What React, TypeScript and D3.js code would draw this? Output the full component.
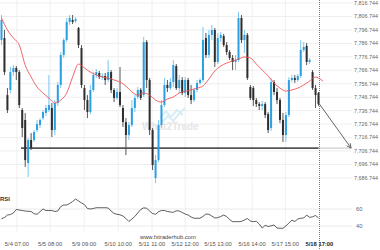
import React from "react";
import * as d3 from "d3";

const OPEN = [7789.2,7790.7,7748.3,7752.1,7765.4,7768.4,7765.4,7737.2,7729.8,7697.8,
7714.9,7714.9,7722.3,7726.0,7731.2,7735.0,7737.2,7738.7,7722.3,7742.4,
7755.8,7778.1,7789.2,7802.6,7804.1,7803.4,7798.2,7783.3,7753.5,7744.6,
7735.7,7752.1,7763.2,7764.7,7761.7,7762.5,7759.5,7765.4,7752.1,7746.1,
7750.6,7738.7,7728.3,7718.6,7726.0,7738.7,7746.9,7752.1,7748.3,7787.7,
7759.5,7722.3,7686.6,7700.0,7726.0,7740.9,7755.8,7753.5,7758.0,7769.9,
7753.5,7759.5,7749.8,7759.5,7748.3,7744.6,7752.1,7757.3,7759.5,7790.7,
7778.1,7793.0,7796.7,7772.9,7790.7,7792.2,7785.5,7780.3,7775.9,7772.9,
7774.4,7805.6,7789.2,7793.0,7754.3,7753.5,7744.6,7741.6,7740.2,7741.6,
7734.2,7723.8,7758.0,7750.6,7744.6,7729.8,7718.6,7733.5,7759.5,7761.0,
7759.5,7762.5,7781.8,7784.8,7772.9,7765.4,7753.5,7749.8];
const HIGH = [7807.8,7796.7,7753.5,7769.2,7770.6,7769.9,7766.9,7738.7,7735.0,7716.4,
7720.1,7722.3,7729.8,7731.2,7737.2,7740.9,7763.2,7742.4,7744.6,7758.0,
7780.3,7790.7,7805.6,7807.8,7807.8,7806.3,7798.9,7785.5,7755.8,7748.3,
7755.8,7765.4,7767.7,7766.2,7764.7,7764.7,7774.4,7766.9,7753.5,7753.5,
7769.2,7740.9,7731.2,7728.3,7744.6,7748.3,7754.3,7753.5,7791.5,7789.2,
7761.0,7723.8,7703.7,7729.8,7744.6,7761.0,7759.5,7761.0,7774.4,7771.4,
7763.2,7761.7,7761.7,7761.0,7755.8,7753.5,7759.5,7761.0,7798.9,7794.4,
7796.7,7800.4,7798.2,7794.4,7795.2,7793.7,7787.7,7781.8,7778.1,7778.1,
7810.1,7807.8,7796.7,7794.4,7755.8,7755.0,7746.1,7743.1,7743.9,7743.1,
7735.7,7761.0,7759.5,7753.5,7746.1,7735.0,7735.7,7761.7,7763.2,7763.2,
7764.0,7789.2,7787.7,7787.0,7775.9,7766.9,7755.8,7750.6];
const LOW = [7785.5,7763.2,7735.0,7749.8,7762.5,7759.5,7738.7,7717.1,7694.8,7687.4,
7707.5,7713.4,7720.8,7723.8,7729.8,7732.7,7735.7,7717.1,7718.6,7740.2,
7753.5,7775.9,7787.7,7800.4,7801.1,7801.9,7783.3,7753.5,7737.2,7731.2,
7734.2,7750.6,7761.0,7760.2,7759.5,7755.8,7758.0,7749.8,7743.1,7744.6,
7739.4,7724.6,7703.7,7714.9,7724.6,7735.7,7745.4,7744.6,7746.9,7753.5,
7718.6,7692.6,7682.9,7698.5,7723.8,7739.4,7750.6,7752.1,7754.3,7752.1,
7749.8,7748.3,7746.9,7746.1,7741.6,7743.1,7750.6,7755.8,7758.0,7775.9,
7775.9,7789.2,7769.2,7771.4,7787.7,7784.0,7778.1,7774.4,7766.9,7766.9,
7772.9,7787.0,7779.6,7759.5,7744.6,7740.2,7739.4,7737.2,7737.2,7731.2,
7720.1,7721.6,7748.3,7741.6,7727.5,7713.4,7713.4,7732.0,7758.0,7757.3,
7758.0,7761.0,7780.3,7770.6,7771.4,7752.1,7738.7,7740.2];
const CLOSE = [7804.1,7765.4,7737.2,7765.4,7768.4,7765.4,7740.9,7723.8,7700.0,7714.9,
7708.9,7720.8,7726.8,7729.8,7735.7,7738.7,7740.9,7722.3,7742.4,7755.8,
7778.1,7789.2,7802.6,7805.6,7802.6,7804.8,7785.5,7755.8,7744.6,7735.7,
7752.1,7763.2,7765.4,7761.7,7762.5,7759.5,7765.4,7752.1,7746.1,7750.6,
7740.9,7728.3,7718.6,7726.0,7738.7,7746.1,7752.1,7746.1,7787.7,7759.5,
7722.3,7696.3,7700.0,7726.0,7740.9,7755.8,7753.5,7758.0,7770.6,7753.5,
7759.5,7749.8,7759.5,7748.3,7744.6,7752.1,7757.3,7759.5,7789.2,7778.1,
7793.0,7796.7,7772.9,7790.7,7793.0,7785.5,7780.3,7775.9,7772.9,7774.4,
7805.6,7789.2,7793.0,7761.0,7746.1,7744.6,7741.6,7740.2,7741.6,7733.5,
7722.3,7758.0,7750.6,7744.6,7729.8,7718.6,7733.5,7759.5,7761.0,7759.5,
7762.5,7781.8,7784.0,7772.9,7774.4,7753.5,7748.3,7741.6];

const MA_IDX = [0,2,4,6,8,10,12,14,16,18,20,22,24,26,28,30,32,34,36,38,40,42,44,46,48,50,52,54,56,58,60,62,64,66,68,70,72,74,76,78,80,82,84,86,88,90,92,94,96,98,100,102,104,106,107,108.5];
const MA_VAL = [7805.6,7796.7,7790.7,7785.5,7770.6,7761.7,7754.3,7749.8,7746.1,7742.4,
7744.6,7749.8,7761.7,7771.4,7768.4,7765.4,7763.2,7761.7,7761.0,7759.5,
7758.0,7755.0,7750.6,7748.3,7749.8,7748.3,7744.6,7743.1,7745.4,7746.9,
7749.8,7751.3,7752.1,7753.5,7755.0,7760.2,7766.2,7769.9,7772.1,7773.6,
7775.1,7776.6,7775.9,7771.4,7766.9,7762.5,7757.3,7753.5,7751.3,7752.1,
7753.5,7755.8,7758.7,7761.7,7761.0,7758.7];

const RSI = [48.5,50,52.9,53.5,55.3,59.4,58.8,58.2,57.6,57.3,
57.1,54.4,53.8,56.8,60,58.2,58.2,58.2,57.1,57.6,
62.9,64.7,64.7,66.5,68.8,71.8,69.4,67.1,65.1,60.6,
60,60.6,61.5,61.5,61.5,61.5,61.2,57.6,54.7,53.8,
53.2,51.8,48.8,45.3,48.2,51.2,55.3,59.4,61.4,60.8,
57.6,54.7,53.8,56.8,58.2,58.2,57.1,56.5,56.1,57.9,
57.6,55.9,54.1,52.9,50.6,49.1,49.1,49.1,51.2,54.1,
53.8,51.8,49.4,49.8,51.2,52.9,51.2,47.6,45.1,45.1,
45.1,45.5,47.1,48.8,45.9,45.1,45.6,42.4,37.6,40.8,
39.4,40.2,41.2,37.6,37.3,37.3,40,43.5,46.8,45.3,
48.2,49.1,49.4,52.9,50.2,50.8,52.4,49.4];

const PRICE_TICKS = [7816.744,7806.744,7796.744,7786.744,7776.744,7766.744,7756.744,7746.744,7736.744,7726.744,7716.744,7706.744,7696.744,7686.744];
const RSI_TICKS = [60, 40];
const X_LABELS = ["5/4 07:00","5/5 08:00","5/9 09:00","5/10 10:00","5/11 11:00","5/12 12:00","5/15 13:00","5/16 14:00","5/17 15:00","5/18 17:00"];
const X_LABEL_IDX = [5.2,16.4,27.9,39.4,50.8,62,73.1,84.6,95.8,107.3];
const SUPPORT = 7708.9;
const SUPPORT_START_IDX = 6.6;
const TARGET_IDX = 118;

const W = 380, H = 250;
const FONT = "'Liberation Sans', Arial, sans-serif";
const FS = 5.8;

export default function App() {
  const n = CLOSE.length;
  const x = d3.scaleLinear().domain([0, n - 1]).range([1.5, 318.5]);
  const y = d3.scaleLinear().domain([7686.744, 7816.744]).range([177.9, 3]);
  const yr = d3.scaleLinear().domain([40, 60]).range([226, 209]);
  const fmt = d3.format(",.3f");
  const plotRight = 352;

  const maLine = d3.line<number>()
    .x((_, i) => x(MA_IDX[i]))
    .y((d) => y(d))
    .curve(d3.curveMonotoneX)(MA_VAL);
  const rsiLine = d3.line<number>()
    .x((_, i) => x(i))
    .y((d) => yr(d))(RSI);

  const lastX = x(n - 1);
  const lastY = y(CLOSE[n - 1]);
  const tx = x(TARGET_IDX);
  const ty = y(SUPPORT);
  const ang = Math.atan2(ty - lastY, tx - lastX);
  const ah = 5;
  const a1 = [tx - ah * Math.cos(ang - 0.45), ty - ah * Math.sin(ang - 0.45)];
  const a2 = [tx - ah * Math.cos(ang + 0.45), ty - ah * Math.sin(ang + 0.45)];

  return (
    <svg width={W} height={H} style={{ position: "absolute", left: 0, top: 0, background: "#fff" }} fontFamily={FONT}>
      {PRICE_TICKS.map((t) => (
        <line key={"g" + t} x1={0} x2={plotRight} y1={y(t)} y2={y(t)} stroke="#eeeeee" strokeWidth={1} />
      ))}
      {X_LABEL_IDX.slice(0, -1).map((t) => (
        <line key={"v" + t} x1={x(t)} x2={x(t)} y1={0} y2={232} stroke="#f0f0f0" strokeWidth={1} />
      ))}
      {RSI_TICKS.map((t) => (
        <line key={"r" + t} x1={0} x2={plotRight} y1={yr(t)} y2={yr(t)} stroke="#eaeaea" strokeWidth={1} />
      ))}

      <g opacity={0.9}>
        <path d="M160,118 L166,111 L171,117 L177,110 L183,115" fill="none" stroke="#d6ebf7" strokeWidth={2} />
        <path d="M162,122 L168,116 L173,121 L179,114 L185,108" fill="none" stroke="#d6ebf7" strokeWidth={2} />
        <text x={142} y={130} fontSize={10} fontWeight="bold" fill="#e4e4e4">What2Trade</text>
      </g>

      <line x1={x(SUPPORT_START_IDX)} x2={lastX} y1={y(SUPPORT)} y2={y(SUPPORT)} stroke="#555" strokeWidth={1.6} />
      <line x1={lastX} x2={tx} y1={y(SUPPORT)} y2={y(SUPPORT)} stroke="#888" strokeWidth={1} strokeDasharray="1,1" />

      {CLOSE.map((c, i) => {
        const o = OPEN[i];
        const up = c >= o;
        const col = up ? "#2a9fe2" : "#2e2e2e";
        const wick = up ? "#7cc7f0" : "#555";
        const top = y(Math.max(o, c));
        const bot = y(Math.min(o, c));
        return (
          <g key={"c" + i}>
            <line x1={x(i)} x2={x(i)} y1={y(HIGH[i])} y2={y(LOW[i])} stroke={wick} strokeWidth={1} />
            <rect x={x(i) - 1} y={top} width={2} height={Math.max(1, bot - top)} fill={col} />
          </g>
        );
      })}

      <path d={maLine || ""} fill="none" stroke="#f05555" strokeWidth={0.9} />

      <line x1={lastX + 1} x2={lastX + 1} y1={0} y2={H} stroke="#777" strokeWidth={1} strokeDasharray="1,1" />

      <line x1={lastX + 1} y1={lastY} x2={tx} y2={ty} stroke="#666" strokeWidth={1} />
      <path d={`M${a1[0]},${a1[1]} L${tx},${ty} L${a2[0]},${a2[1]}`} fill="none" stroke="#666" strokeWidth={1} />

      {PRICE_TICKS.map((t) => (
        <text key={"l" + t} x={354} y={y(t)} dy="0.35em" fontSize={5.4} fill="#666">{fmt(t)}</text>
      ))}
      {RSI_TICKS.map((t) => (
        <text key={"rl" + t} x={356} y={yr(t)} dy="0.35em" fontSize={FS} fill="#666">{t}</text>
      ))}

      <text x={0} y={199} dy="0.35em" fontSize={6} fontWeight="bold" fill="#333">RSI</text>
      <path d={rsiLine || ""} fill="none" stroke="#333" strokeWidth={0.8} />

      {X_LABELS.map((l, i) => (
        <text key={"x" + l} x={x(X_LABEL_IDX[i])} y={244} dy="0.35em" textAnchor="middle" fontSize={FS}
          fill={i === X_LABELS.length - 1 ? "#222" : "#555"} fontWeight={i === X_LABELS.length - 1 ? "bold" : "normal"}>{l}</text>
      ))}
      <text x={140} y={237} dy="0.35em" fontSize={FS} fill="#444">www.fxtraderhub.com</text>
    </svg>
  );
}
